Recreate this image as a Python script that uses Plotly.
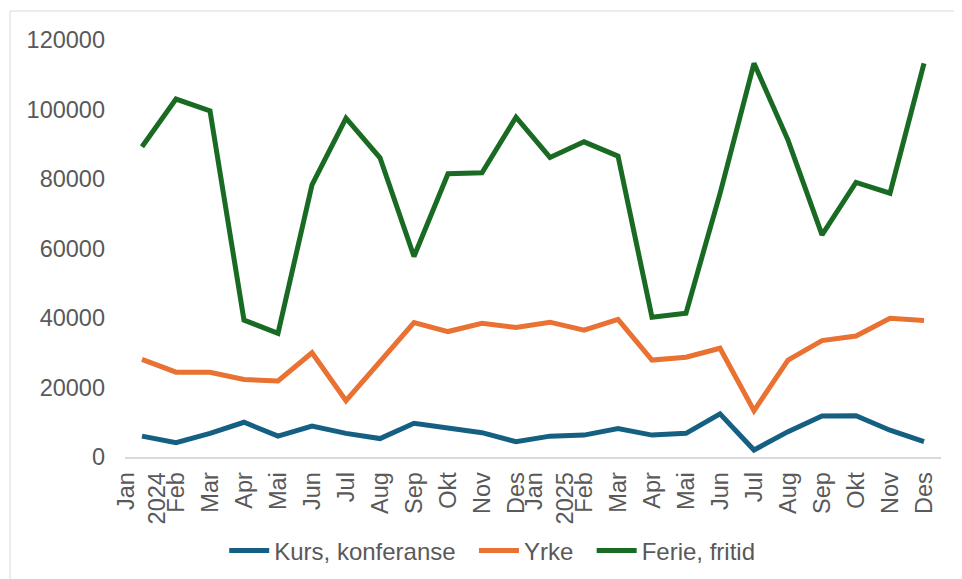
import plotly.graph_objects as go

months = ["Jan<br>2024", "Feb", "Mar", "Apr", "Mai", "Jun", "Jul", "Aug", "Sep", "Okt", "Nov", "Des",
          "Jan<br>2025", "Feb", "Mar", "Apr", "Mai", "Jun", "Jul", "Aug", "Sep", "Okt", "Nov", "Des"]
x_idx = list(range(len(months)))

kurs = [6000, 4100, 6800, 10000, 6000, 8900, 6800, 5300, 9700, 8200, 7000, 4400,
        6000, 6300, 8200, 6300, 6800, 12400, 2000, 7300, 11800, 11900, 7700, 4400]
yrke = [28100, 24400, 24400, 22300, 21900, 30000, 16200, 27200, 38700, 36100, 38500, 37300,
        38800, 36500, 39600, 27900, 28700, 31300, 13300, 27900, 33500, 34800, 39900, 39300]
ferie = [89300, 103000, 99600, 39400, 35600, 78300, 97500, 86100, 57700, 81500, 81800, 97800,
         86200, 90700, 86600, 40200, 41400, 75800, 113300, 91200, 63900, 79000, 75900, 113300]

series = [("Kurs, konferanse\u00a0\u00a0", kurs, "#156082"),
          ("Yrke\u00a0\u00a0", yrke, "#E97132"),
          ("Ferie, fritid", ferie, "#196B24")]

fig = go.Figure()
for name, vals, color in series:
    fig.add_trace(go.Scatter(x=x_idx, y=vals, mode="lines", name=name,
                             line=dict(color=color, width=5)))

font = "Liberation Sans, Arial, sans-serif"
fig.update_layout(
    width=954, height=600,
    margin=dict(l=117, r=21, t=32, b=151),
    paper_bgcolor="white", plot_bgcolor="white",
    font=dict(family=font, size=23.5, color="#595959"),
    showlegend=True,
    legend=dict(orientation="h", x=0.45, xanchor="center", y=-0.2254, yanchor="middle",
                font=dict(size=24, color="#595959"), itemwidth=40),
    xaxis=dict(tickmode="array", tickvals=x_idx, ticktext=months, tickangle=-90,
               range=[-0.5, 23.5], showgrid=False, showline=True, linecolor="#d9d9d9",
               linewidth=1.5, ticks="", zeroline=False, ticklabelstandoff=4, automargin=False,
               tickfont=dict(size=23.5, color="#595959")),
    yaxis=dict(range=[0, 120000], tickmode="array", tickvals=[0, 20000, 40000, 60000, 80000, 100000, 120000],
               ticktext=["0", "20000", "40000", "60000", "80000", "100000", "120000"],
               showgrid=False, zeroline=False, showline=False, ticks="", automargin=False,
               ticklabelstandoff=19, tickfont=dict(size=23.5, color="#595959")),
    shapes=[dict(type="rect", xref="paper", yref="paper", x0=-0.1409, y0=-0.6, x1=1.2, y1=1.0695,
                 line=dict(color="#d9d9d9", width=1), fillcolor="rgba(0,0,0,0)", layer="below")],
)

fig.write_html("out.html")
